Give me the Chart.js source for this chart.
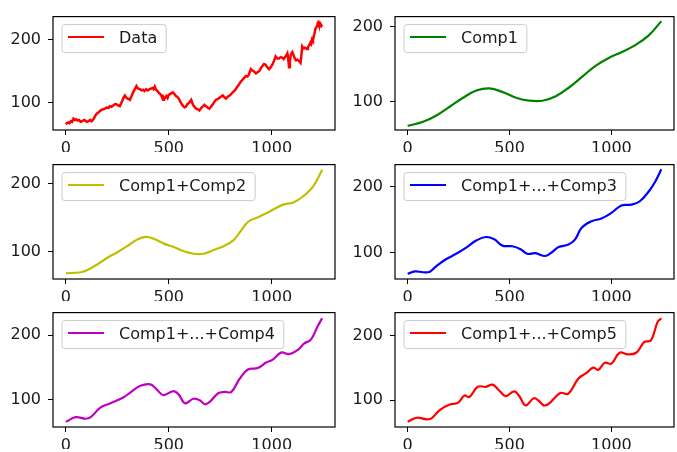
<!DOCTYPE html>
<html>
<head>
<meta charset="utf-8">
<script src="https://cdn.jsdelivr.net/npm/chart.js@4.4.1/dist/chart.umd.min.js"></script>
<style>
  html, body { margin: 0; padding: 0; background: #fff; }
  #wrap { position: relative; width: 677px; height: 452px; overflow: hidden; }
  #wrap canvas { position: absolute; }
</style>
</head>
<body>
<div id="wrap"></div>
<script>
// tick labels
const xTicks = [0, 500, 1000];
const yTicks = [100, 200];

// raw data (noisy)
const dataX = [0, 6, 12, 18, 25, 31, 37, 44, 50, 58, 65, 72, 80, 88, 95, 102, 110, 118, 125, 134,
  142, 150, 158, 165, 173, 182, 190, 200, 207, 214, 222, 230, 238, 246, 254, 262, 268, 275, 281, 287,
  293, 300, 306, 311, 318, 327, 335, 343, 350, 360, 367, 375, 382, 390, 398, 407, 414, 420, 426, 432,
  438, 445, 450, 456, 461, 465, 472, 476, 480, 488, 494, 500, 510, 520, 528, 535, 544, 552, 558, 565,
  570, 576, 583, 590, 600, 609, 614, 620, 627, 633, 641, 649, 655, 660, 667, 673, 679, 685, 691, 697,
  705, 712, 720, 729, 737, 745, 753, 762, 770, 778, 786, 795, 803, 810, 818, 825, 833, 842, 850, 858,
  866, 874, 881, 887, 893, 899, 905, 911, 917, 923, 931, 940, 948, 955, 962, 970, 978, 987, 995, 1003,
  1011, 1019, 1027, 1035, 1043, 1052, 1058, 1065, 1071, 1076, 1080, 1084, 1088, 1092, 1096, 1100, 1106, 1112, 1118, 1124,
  1132, 1140, 1144, 1148, 1154, 1160, 1166, 1172, 1176, 1180, 1184, 1188, 1192, 1196, 1200, 1204, 1208, 1212, 1216, 1220,
  1223, 1225, 1228, 1232, 1235, 1237, 1241, 1245];
const dataY = [65, 67, 68, 67, 70, 69, 74, 72, 73, 71, 72, 69, 70, 72, 71, 69, 70, 72, 70, 73,
  78, 82, 84, 86, 88, 89, 90, 92, 91, 94, 93, 95, 97, 97, 95, 94, 98, 103, 108, 111,
  108, 106, 105, 104, 109, 116, 121, 126, 122, 121, 119, 120, 118, 121, 119, 121, 122, 123, 121, 125,
  120, 118, 116, 114, 112, 110, 104, 108, 106, 110, 107, 112, 114, 116, 113, 110, 108, 104, 100, 96,
  94, 92, 93, 97, 100, 104, 99, 95, 92, 90, 89, 87, 90, 92, 94, 96, 94, 93, 91, 90,
  93, 96, 100, 104, 105, 107, 109, 111, 108, 106, 109, 111, 113, 116, 118, 121, 125, 129, 133, 136,
  139, 142, 141, 143, 148, 153, 151, 150, 148, 146, 148, 150, 155, 158, 161, 160, 156, 153, 156, 160,
  166, 173, 170, 170, 172, 171, 169, 172, 175, 178, 170, 156, 165, 175, 178, 180, 175, 170, 167, 168,
  166, 163, 175, 189, 186, 187, 186, 185, 188, 190, 192, 195, 193, 200, 198, 205, 210, 217, 219, 222,
  226, 227, 224, 222, 226, 225, 222, 224];

// Comp1
const comp1X = [0, 76, 141, 206, 272, 337, 402, 467, 532, 597, 662, 727, 792, 857, 922, 987, 1052, 1117, 1182, 1245];
const comp1Y = [67.5, 73, 81.4, 93, 105, 114.5, 117.4, 112.4, 105, 101, 101, 107, 118.6, 133, 147.5, 158, 166, 175, 187.6, 207];

// Comp1+Comp2
const comp12X = [0, 73, 105, 153, 202, 250, 298, 347, 387, 427, 476, 524, 573, 621, 669, 718, 766, 815, 847, 887, 927, 976, 1016, 1056, 1105, 1153, 1202, 1245];
const comp12Y = [68, 69.5, 72.7, 81, 91, 99, 108, 118, 121.8, 119, 111.8, 106.8, 100.5, 96.8, 96.8, 102.3, 108, 117, 129.5, 144.5, 150, 157, 163.6, 169.5, 172.7, 181.8, 196.8, 221];

// Comp1+...+Comp3
const comp13X = [0, 36, 76, 109, 141, 190, 238, 287, 336, 384, 425, 465, 514, 554, 587, 627, 676, 708, 741, 789, 822, 854, 903, 951, 1000, 1049, 1097, 1138, 1186, 1219, 1245];
const comp13Y = [68.4, 72, 70.7, 71.6, 80, 90.7, 98.6, 108, 118.6, 124, 120.5, 111, 110, 105.6, 98.6, 99.5, 95.3, 101, 108.8, 112.6, 120.5, 138, 148, 152, 160.5, 171.6, 173, 177.7, 194, 210, 226.5];

// Comp1+...+Comp4
const comp14X = [0, 48, 96, 121, 169, 217, 281, 313, 362, 410, 442, 474, 522, 547, 579, 619, 651, 675, 699, 740, 772, 804, 844, 884, 932, 973, 1005, 1045, 1085, 1125, 1158, 1190, 1222, 1245];
const comp14Y = [65.7, 72.9, 70.5, 73, 88, 94.3, 103.8, 111, 121.4, 123.8, 115.7, 107, 113.3, 108.6, 94.3, 101.4, 99, 92.9, 96.7, 110, 112, 112, 132.4, 146.7, 149, 157.6, 162, 172.9, 170.5, 176.7, 187, 192.9, 213, 226];

// Comp1+...+Comp5
const comp15X = [0, 44, 92, 117, 157, 206, 246, 279, 303, 344, 384, 417, 449, 481, 522, 546, 579, 619, 643, 668, 692, 749, 789, 838, 878, 911, 935, 968, 1000, 1040, 1081, 1122, 1162, 1194, 1227, 1245];
const comp15Y = [66.3, 72.6, 70.2, 71.6, 84.6, 93.3, 95.7, 107.2, 104.8, 120.7, 120.7, 124, 115, 106.3, 113.5, 107.2, 91.8, 102.9, 99, 91.8, 94.2, 111, 110, 133.6, 142.3, 150.5, 147, 158, 156.7, 173.6, 171, 173.6, 190.4, 192.8, 221.6, 227];

const toPts = (xs, ys) => xs.map((x, i) => ({ x: x, y: ys[i] }));

const panels = [
  { label: 'Data', color: '#ff0000', pts: toPts(dataX, dataY), tension: 0, lw: 2.5, yMin: 56, yMax: 236.5,
    col: 0, top: 0, box: [53, 7, 335, 130] },
  { label: 'Comp1', color: '#008000', pts: toPts(comp1X, comp1Y), tension: 0.4, lw: 2.2, yMin: 62, yMax: 213,
    col: 1, top: 0, box: [395, 7, 674, 130] },
  { label: 'Comp1+Comp2', color: '#bfbf00', pts: toPts(comp12X, comp12Y), tension: 0.4, lw: 2.2, yMin: 59.5, yMax: 228.6,
    col: 0, top: 148, box: [53, 155, 335, 279] },
  { label: 'Comp1+...+Comp3', color: '#0000ff', pts: toPts(comp13X, comp13Y), tension: 0.4, lw: 2.2, yMin: 60.5, yMax: 233.5,
    col: 1, top: 148, box: [395, 155, 674, 279] },
  { label: 'Comp1+...+Comp4', color: '#bf00bf', pts: toPts(comp14X, comp14Y), tension: 0.4, lw: 2.2, yMin: 57.7, yMax: 234.8,
    col: 0, top: 296, box: [53, 303, 335, 427] },
  { label: 'Comp1+...+Comp5', color: '#ff0000', pts: toPts(comp15X, comp15Y), tension: 0.4, lw: 2.2, yMin: 58.2, yMax: 236,
    col: 1, top: 296, box: [395, 303, 674, 427] }
];

Chart.defaults.font.family = '"DejaVu Sans", sans-serif';
Chart.defaults.font.size = 16;
Chart.defaults.color = '#1a1a1a';

// box round the axes + matplotlib-like legend in the upper left
const framePlugin = {
  id: 'frame',
  afterDraw(chart) {
    const ctx = chart.ctx;
    const a = chart.chartArea;
    ctx.save();
    ctx.strokeStyle = '#000';
    ctx.lineWidth = 1.2;
    ctx.strokeRect(a.left, a.top, a.right - a.left, a.bottom - a.top);

    const ds = chart.data.datasets[0];
    ctx.font = '16px "DejaVu Sans"';
    const tw = ctx.measureText(ds.label).width;
    const bx = a.left + 9, by = a.top + 8, bw = 57 + tw + 9, bh = 28;
    ctx.beginPath();
    ctx.roundRect(bx, by, bw, bh, 3);
    ctx.fillStyle = 'rgba(255,255,255,0.8)';
    ctx.fill();
    ctx.strokeStyle = '#cccccc';
    ctx.lineWidth = 1;
    ctx.stroke();
    ctx.beginPath();
    ctx.moveTo(bx + 6, by + 12.5);
    ctx.lineTo(bx + 42, by + 12.5);
    ctx.strokeStyle = ds.borderColor;
    ctx.lineWidth = 2;
    ctx.stroke();
    ctx.fillStyle = '#1a1a1a';
    ctx.textBaseline = 'alphabetic';
    ctx.fillText(ds.label, bx + 57, by + 18.5);
    ctx.restore();
  }
};

const wrap = document.getElementById('wrap');

panels.forEach(p => {
  const colX = p.col === 0 ? 0 : 340;
  const colW = p.col === 0 ? 340 : 337;
  const [L, T, R, B] = p.box;
  const h = B - T + 7 + 22;
  const cv = document.createElement('canvas');
  cv.width = colW;
  cv.height = h;
  cv.style.left = colX + 'px';
  cv.style.top = p.top + 'px';
  cv.style.width = colW + 'px';
  cv.style.height = h + 'px';
  wrap.appendChild(cv);

  new Chart(cv.getContext('2d'), {
    type: 'line',
    data: {
      datasets: [{
        label: p.label,
        data: p.pts,
        borderColor: p.color,
        borderWidth: p.lw,
        pointRadius: 0,
        tension: p.tension,
        fill: false
      }]
    },
    options: {
      responsive: false,
      animation: false,
      devicePixelRatio: 1,
      layout: { padding: { top: T - p.top, right: colX + colW - R, left: 0, bottom: 0 } },
      plugins: { legend: { display: false }, tooltip: { enabled: false } },
      scales: {
        x: {
          type: 'linear',
          min: -62.25,
          max: 1307.25,
          afterBuildTicks: s => { s.ticks = xTicks.map(v => ({ value: v })); },
          afterFit: s => { s.height = 22; },
          grid: { display: true, drawOnChartArea: false, drawTicks: true, tickLength: 5, color: '#000', lineWidth: 1 },
          border: { display: false },
          ticks: { padding: 4, maxRotation: 0, autoSkip: false, callback: v => String(v) }
        },
        y: {
          type: 'linear',
          min: p.yMin,
          max: p.yMax,
          afterBuildTicks: s => { s.ticks = yTicks.map(v => ({ value: v })); },
          afterFit: s => { s.width = L - colX; },
          grid: { display: true, drawOnChartArea: false, drawTicks: true, tickLength: 5, color: '#000', lineWidth: 1 },
          border: { display: false },
          ticks: { padding: 7, callback: v => String(v) }
        }
      }
    },
    plugins: [framePlugin]
  });
});
</script>
</body>
</html>
